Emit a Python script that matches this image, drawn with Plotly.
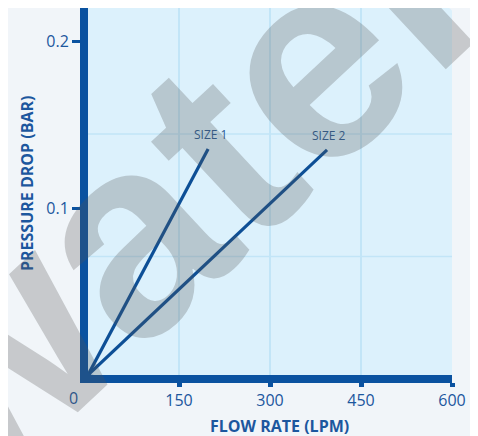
import plotly.graph_objects as go

# ---- data ----
series_names = ["SIZE 1", "SIZE 2"]
size1_flow = [0, 198]          # LPM
size1_drop = [0, 0.1355]       # bar
size2_flow = [0, 394]
size2_drop = [0, 0.135]
x_ticks = [150, 300, 450, 600]
x_tick_text = ["150", "300", "450", "600"]
y_ticks = [0.1, 0.2]
y_tick_text = ["0.1", "0.2"]
h_grid = [0.071, 0.1445]

AXIS = "#0a52a0"
LINE = "#0d4f96"
TXT = "#1c579e"
PAGE = "#f1f5f9"
PLOT = "#dcf1fc"
GRID = "#c2e5f7"

fig = go.Figure()
for name, xs, ys in [(series_names[0], size1_flow, size1_drop),
                     (series_names[1], size2_flow, size2_drop)]:
    fig.add_trace(go.Scatter(x=xs, y=ys, mode="lines", name=name,
                             line=dict(color=LINE, width=3.2),
                             cliponaxis=False, showlegend=False,
                             hoverinfo="skip"))
    fig.add_annotation(x=xs[-1], y=ys[-1], text=name, showarrow=False,
                       xanchor="center", yanchor="bottom", yshift=4, xshift=2,
                       font=dict(family="Open Sans", size=12, color="#2b5b93"))

for gy in h_grid:
    fig.add_shape(type="line", xref="x domain", yref="y", x0=0, x1=1, y0=gy, y1=gy,
                  line=dict(color=GRID, width=1.5), layer="below")

# rounded axis corner: inner fillet and rounded outer edge (pixel-sized, anchored at the origin)
fig.add_shape(type="path", xref="x", yref="y", xsizemode="pixel", ysizemode="pixel",
              xanchor=0, yanchor=0, path="M 0,0 L 6,0 Q 0,0 0,6 Z",
              fillcolor=AXIS, line=dict(width=0), layer="above")
fig.add_shape(type="path", xref="x", yref="y", xsizemode="pixel", ysizemode="pixel",
              xanchor=0, yanchor=0, path="M -9,6 L -9,-9 L 6,-9 Q -8,-8 -8,6 Z",
              fillcolor=PAGE, line=dict(width=0), layer="above")
# rounded top-right corner of the plot background
fig.add_shape(type="path", xref="x domain", yref="y domain", xsizemode="pixel", ysizemode="pixel",
              xanchor=1, yanchor=1, path="M 1,1 L -6,1 Q 0,0 1,-6 Z",
              fillcolor=PAGE, line=dict(width=0), layer="above")

fig.update_xaxes(range=[0, 600], tickvals=x_ticks, ticktext=x_tick_text,
                 showline=True, linewidth=8, linecolor=AXIS,
                 ticks="outside", ticklen=4, tickwidth=5, tickcolor=AXIS,
                 showgrid=True, gridcolor=GRID, gridwidth=1.5, zeroline=False,
                 tickfont=dict(family="Open Sans", size=16, color=TXT))
fig.update_yaxes(range=[0, 0.22], tickvals=y_ticks, ticktext=y_tick_text,
                 showline=True, linewidth=8, linecolor=AXIS,
                 ticks="outside", ticklen=8, tickwidth=3, tickcolor=AXIS,
                 showgrid=False, zeroline=False,
                 tickfont=dict(family="Open Sans", size=16, color=TXT))

# axis titles and the origin label
fig.add_annotation(xref="paper", yref="paper", x=0.527, y=-0.139, text="<b>FLOW RATE (LPM)</b>",
                   xanchor="center", yanchor="middle",
                   showarrow=False, font=dict(family="Open Sans", size=16, color=TXT))
fig.add_annotation(xref="paper", yref="paper", x=-0.1676, y=0.523, text="<b>PRESSURE DROP (BAR)</b>",
                   xanchor="center", yanchor="middle",
                   textangle=-90, showarrow=False, font=dict(family="Open Sans", size=16, color=TXT))
fig.add_annotation(xref="paper", yref="paper", x=-0.0385, y=-0.0627, text="0",
                   xanchor="center", yanchor="middle",
                   showarrow=False, font=dict(family="Open Sans", size=16, color=TXT))

# watermark
fig.add_annotation(xref="paper", yref="paper", x=0.242, y=0.5095, text="<b>water</b>",
                   xanchor="center", yanchor="middle",
                   textangle=-43, showarrow=False,
                   font=dict(family="Liberation Sans", size=280, color="rgba(85,85,85,0.27)"))

# the page body adds an 8px offset, so the margins are reduced by 8px
fig.update_layout(width=478, height=436, margin=dict(l=80, r=34, t=0, b=69),
                  paper_bgcolor=PAGE, plot_bgcolor=PLOT)

fig.write_html("out.html")
